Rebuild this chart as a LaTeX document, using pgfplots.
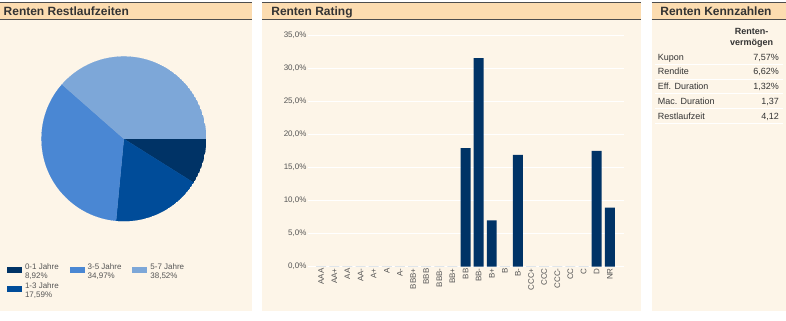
\documentclass[border=0pt]{standalone}
\usepackage{pgfplots}
\pgfplotsset{compat=1.18}
\usepgfplotslibrary{polar}
\usepackage{fontspec}
\setmainfont{Liberation Sans}
\definecolor{bgc}{HTML}{FDF5E8}
\definecolor{hdr}{HTML}{FCDCB0}
\definecolor{hline}{HTML}{4D4D4D}
\definecolor{hdrtext}{HTML}{333333}
\definecolor{tickc}{HTML}{555555}
\definecolor{txt}{HTML}{333333}
\definecolor{navy}{HTML}{003366}
\definecolor{pA}{HTML}{003366}
\definecolor{pB}{HTML}{004C99}
\definecolor{pC}{HTML}{4A87D3}
\definecolor{pD}{HTML}{7DA7D8}
% shares of the pie (percent)
\def\sA{8.92}\def\sB{17.59}\def\sC{34.97}\def\sD{38.52}
\pgfmathsetmacro\eA{-\sA*3.6}
\pgfmathsetmacro\eB{\eA-\sB*3.6}
\pgfmathsetmacro\eC{\eB-\sC*3.6}
\pgfmathsetmacro\eD{\eC-\sD*3.6}
\newcommand\header[4]{%
  \fill[hdr] (#1,301) rectangle (#2,318.5);
  \draw[hline, line width=0.8pt] (#1,318.5) -- (#2,318.5);
  \draw[hline, line width=1pt] (#1,301) -- (#2,301);
  \node[anchor=base west, font=\fontsize{12}{14}\selectfont\bfseries, text=hdrtext, inner sep=0pt] at (#3,305) {#4};}
\begin{document}
\begin{tikzpicture}[x=1pt,y=1pt]
\fill[white] (0,0) rectangle (786,321);
% panels
\fill[bgc] (0,10) rectangle (252,301);
\fill[bgc] (262,10) rectangle (641,301);
\fill[bgc] (652,10) rectangle (786,301);
\header{0}{252}{3}{Renten Restlaufzeiten}
\header{262}{641}{271}{Renten Rating}
\header{652}{786}{660.5}{Renten Kennzahlen}
% ---------------- pie ----------------
\begin{polaraxis}[at={(123.5pt,182pt)}, anchor=center, scale only axis,
  width=165pt, height=165pt, hide axis, ymin=0, ymax=1,
  legend image code/.code={\fill[#1, draw=none] (0pt,-1.5pt) rectangle (15pt,4.5pt);},
  legend columns=3, legend cell align=left,
  legend style={at={(-0.21,-0.245)}, anchor=north west, draw=none, fill=none,
    inner sep=0pt, font=\fontsize{8}{9}\selectfont, text=tickc,
    /tikz/every even column/.append style={column sep=8pt},
    row sep=0pt, nodes={align=left, inner ysep=1.5pt, inner xsep=3pt}}]
\addplot[fill=pA, draw=pA, line width=0.2pt, domain=\eA:0, samples=40, forget plot] {1} -- (axis cs:0,0) -- cycle;
\addplot[fill=pB, draw=pB, line width=0.2pt, domain=\eB:\eA, samples=60, forget plot] {1} -- (axis cs:0,0) -- cycle;
\addplot[fill=pC, draw=pC, line width=0.2pt, domain=\eC:\eB, samples=90, forget plot] {1} -- (axis cs:0,0) -- cycle;
\addplot[fill=pD, draw=pD, line width=0.2pt, domain=\eD:\eC, samples=90, forget plot] {1} -- (axis cs:0,0) -- cycle;
\addlegendimage{fill=pA}\addlegendentry{0-1 Jahre\\8,92\%}
\addlegendimage{fill=pC}\addlegendentry{3-5 Jahre\\34,97\%}
\addlegendimage{fill=pD}\addlegendentry{5-7 Jahre\\38,52\%}
\addlegendimage{fill=pB}\addlegendentry{1-3 Jahre\\17,59\%}
\end{polaraxis}
% ---------------- bars ----------------
\begin{axis}[at={(308pt,54pt)}, anchor=south west, scale only axis,
  width=316pt, height=232pt, xmin=-1, xmax=23.06, ymin=0, ymax=35,
  ybar, bar width=10pt, axis line style={draw=none}, major tick length=0pt,
  ytick={0,5,10,15,20,25,30,35},
  yticklabels={{0,0\%},{5,0\%},{10,0\%},{15,0\%},{20,0\%},{25,0\%},{30,0\%},{35,0\%}},
  xtick={0,1,...,22},
  xticklabels={AAA,AA+,AA,AA-,A+,A,A-,BBB+,BBB,BBB-,BB+,BB,BB-,B+,B,B-,CCC+,CCC,CCC-,CC,C,D,NR},
  xticklabel style={rotate=90, anchor=east, font=\fontsize{8}{9}\selectfont, text=tickc, inner sep=1.5pt},
  yticklabel style={font=\fontsize{8}{9}\selectfont, text=tickc, inner sep=1.5pt},
  ymajorgrids, major grid style={white, line width=0.8pt}]
\addplot[fill=navy, draw=none] coordinates {
 (0,0) (1,0) (2,0) (3,0) (4,0) (5,0) (6,0) (7,0) (8,0) (9,0) (10,0)
 (11,17.9) (12,31.5) (13,7.0) (14,0) (15,16.9) (16,0) (17,0) (18,0)
 (19,0) (20,0) (21,17.5) (22,8.9)};
\end{axis}
% ---------------- table ----------------
\node[font=\fontsize{9}{11}\selectfont\bfseries, align=center, text=txt, inner sep=0pt] at (752,283.5) {Renten-\\vermögen};
\foreach \i/\lab/\val in {0/Kupon/{7,57\%},1/Rendite/{6,62\%},2/Eff. Duration/{1,32\%},3/Mac. Duration/{1,37},4/Restlaufzeit/{4,12}}{
  \pgfmathsetmacro\yy{321-57-14.75*\i-3.2}
  \node[anchor=base west, font=\fontsize{9}{11}\selectfont, text=txt, inner sep=0pt] at (658,\yy) {\lab};
  \node[anchor=base east, font=\fontsize{9}{11}\selectfont, text=txt, inner sep=0pt] at (779.5,\yy) {\val};
  \pgfmathsetmacro\ll{321-57-14.75*\i-7.4}
  \draw[white, line width=0.8pt] (655,\ll) -- (783,\ll);
}
\end{tikzpicture}
\end{document}
